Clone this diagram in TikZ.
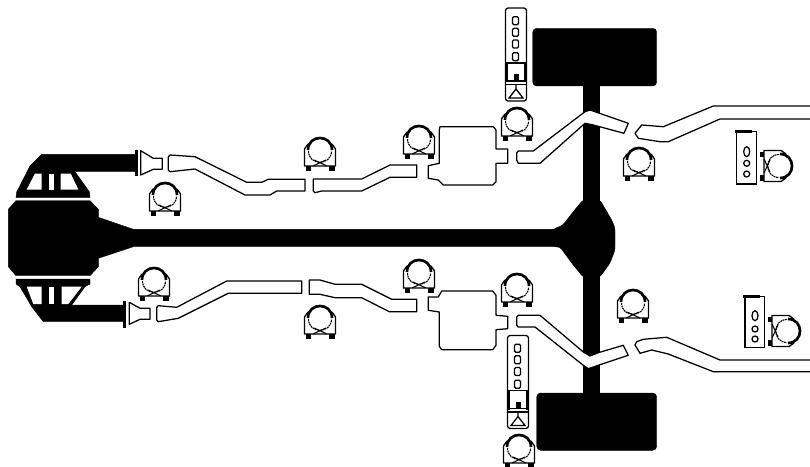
\documentclass[tikz,border=0pt]{standalone}
\usepackage{tikz}
\tikzset{
 tube/.style={draw,fill=white,line width=0.95pt,line join=round},
 solid/.style={fill=black,draw=black,line width=0.3pt},
 hole/.style={fill=white,draw=none},
 clamp/.pic={
  \begin{scope}[y=0.75pt]
  \draw[line width=1pt] (-12,7) -- (-15.5,2) -- (-15.5,-15) -- (15.5,-15) -- (15.5,2) -- (12,7);
  \draw[white,fill=white] (-11.5,0) .. controls (-11.5,-15) and (11.5,-15) .. (11.5,0) -- cycle;
  \draw[line width=0.8pt,dash pattern=on 1.4pt off 0.5pt] (-11.5,0) .. controls (-11.5,-15) and (11.5,-15) .. (11.5,0);
  \draw[line width=2pt] (-12,1) .. controls (-12,17) and (12,17) .. (12,1);
  \draw[line width=0.8pt] (-6,-9) -- (7,-15);
  \draw[line width=0.8pt] (6,-9) -- (-7,-15);
  \fill (-14.5,-15) rectangle (-9,-19.5);
  \fill (9,-15) rectangle (14.5,-19.5);
  \end{scope}
 },
 hanger/.pic={
  \draw[line width=0.95pt,rounded corners=2pt] (0,0) rectangle (21,93);
  \draw[line width=0.95pt] (0,55) -- (21,55);
  \foreach \yy in {8.7,20.3,32,44.7} {
   \draw[line width=0.95pt,rounded corners=1pt] (7,\yy) rectangle (13,\yy+8);
  }
  \fill (0,55) rectangle (2.2,74);
  \fill (18.8,55) rectangle (21,74);
  \draw[line width=0.95pt] (0,73) -- (21,73);
  \draw[line width=0.95pt] (0,76.5) -- (21,76.5);
  \fill (8,66) rectangle (13,73);
  \draw[line width=0.95pt] (10.5,77) -- (10.5,81) -- (3.5,90) -- (17.5,90) -- (10.5,81);
 },
}
\begin{document}
\begin{tikzpicture}[x=0.75pt,y=-0.75pt]
\useasboundingbox (0,0) rectangle (810,467);
\fill[solid] (8.3,209.3) -- (16,200.7) -- (90,200.7) -- (98.3,209.3) -- (98.3,217.3) -- (133.3,229.3) -- (560,229.3) -- (560,246.7) -- (133.3,246.7) -- (98.3,258.3) -- (98.3,266.7) -- (90,275.7) -- (16,275.7) -- (8.3,266.7) -- cycle;
\fill[solid] (41.7,154.3) -- (135,154.3) -- (135,171.7) -- (75,171.7) -- (89.5,192) -- (90,197.5) -- (16,197.5) -- (16.7,192) -- (30,166) -- cycle;
\fill[solid] (135,150) rectangle (137,175);
\fill[hole] (26.7,189.5) -- (35,173.5) -- (41.7,173.5) -- (41.7,189.5) -- cycle;
\fill[hole] (49.3,173.5) rectangle (54.3,189.5);
\fill[hole] (60.7,173.5) -- (70.7,173.5) -- (78.3,189.5) -- (60.7,189.5) -- cycle;
\fill[solid] (16,279) -- (90,279) -- (90,284) -- (85,286.7) -- (71.7,305) -- (123.3,305) -- (123.3,321.7) -- (43.3,321.7) -- (31.7,306.7) -- (20,286.7) -- (16,284) -- cycle;
\fill[solid] (123.3,301) rectangle (125,326.7);
\fill[hole] (26.7,286.7) -- (41.7,286.7) -- (41.7,304) -- (33.3,304) -- cycle;
\fill[hole] (49.3,286.7) rectangle (54.3,304);
\fill[hole] (61.7,286.7) -- (81.7,286.7) -- (68.3,304) -- (61.7,304) -- cycle;
\fill[solid] (583.3,86) rectangle (599,393);
\fill[solid,rounded corners=2pt] (553,229.3) -- (563,225) -- (573,212) -- (583,200) -- (600,200) -- (611.7,220) -- (615,228) -- (615,250) -- (610,263) -- (600,277) -- (583,277) -- (571.7,263) -- (560,247) -- (553,246.7) -- cycle;
\fill[solid,rounded corners=3pt] (532.7,28.3) -- (656.7,28.3) -- (656.7,86) -- (532.7,86) -- cycle;
\fill[solid,rounded corners=3pt] (536.7,393) -- (656.7,393) -- (656.7,450.3) -- (536.7,450.3) -- cycle;
\draw[tube] (140.7,150.7) -- (153.3,158.3) -- (162.3,158.3) -- (162.3,169.3) -- (153.3,169.3) -- (140.7,175) -- cycle;
\draw[tube] (129.3,302.3) -- (140,308.3) -- (150,308.3) -- (150,319.3) -- (140,319.3) -- (129.3,324.3) -- cycle;
\draw[tube] (168.3,157) -- (170,155) -- (195,156.7) -- (246.7,182.3) -- (261.7,182.3) -- (268.3,179.3) -- (305,179.3) -- (305,191) -- (276.7,191) -- (270,195) -- (245,195) -- (195,169) -- (170,171.7) -- (168.3,170) -- cycle;
\draw[tube] (313.3,179) -- (323.3,179) -- (361.7,179) -- (390,165) -- (416.7,165) -- (416.7,177.3) -- (390,177.3) -- (361.7,191) -- (321.7,191) -- (315,192.7) -- (313.3,191) -- cycle;
\draw[tube] (440,126.7) -- (493.3,126.7) -- (496,130) -- (496,149) -- (507.7,149) -- (507.7,163.3) -- (496,163.3) -- (496,181.7) -- (492.7,185) -- (443.3,185) -- (438.3,180) -- (428.3,178.3) -- (428.3,165.7) -- (439.3,163.3) -- (439.3,130) -- cycle;
\draw[tube] (518.3,151) -- (533.3,151) -- (585,111.7) -- (590,110) -- (628.3,123.3) -- (624,133.3) -- (593.3,125) -- (585,123.3) -- (540,163.3) -- (518.3,163.3) -- (516.7,160) -- (516.7,153) -- cycle;
\draw[tube] (812,106) -- (713.3,106) -- (663.3,126.7) -- (641.7,125) -- (635,133.3) -- (638.3,138.3) -- (660,141.7) -- (668.3,141.7) -- (720,119) -- (812,119);
\draw[tube] (158.3,305.7) -- (176.7,307.3) -- (226.7,281) -- (301.7,281) -- (301.7,293.3) -- (228.3,293.3) -- (178.3,318.3) -- (158.3,321.7) -- (156.7,320) -- (156.7,307.5) -- cycle;
\draw[tube] (309.3,280) -- (320,280) -- (335,284.3) -- (361.7,284.3) -- (391.7,299.3) -- (416.7,299.3) -- (416.7,311.7) -- (389.3,311.7) -- (361.7,297.7) -- (335,297.7) -- (320,294.3) -- (309.3,294.3) -- cycle;
\draw[tube] (441.7,291) -- (492.7,291) -- (496,295.3) -- (496,315.3) -- (507.7,316.3) -- (507.7,328.7) -- (496,329.7) -- (496,345.3) -- (492.7,349.7) -- (441.7,349.7) -- (439.3,346.3) -- (439.3,312) -- (428.3,310.3) -- (428.3,297) -- (438.3,297) -- cycle;
\draw[tube] (518.3,315.3) -- (540,315.3) -- (583.3,352) -- (590,356) -- (598.3,352.7) -- (623.3,345.3) -- (628.3,355.3) -- (598.3,365.3) -- (588.3,368.7) -- (583.3,365.3) -- (535,327) -- (518.3,327) -- (516.7,325.3) -- (516.7,317) -- cycle;
\draw[tube] (812,360) -- (720,360) -- (666.7,337.3) -- (643.3,339.3) -- (636.7,341.7) -- (635,345) -- (640,353.3) -- (651.7,350) -- (668.3,354) -- (713.3,371.7) -- (812,371.7);
\pic at (165,196) {clamp};
\pic at (320,151) {clamp};
\pic at (419,139) {clamp};
\pic at (517,121) {clamp};
\pic at (639,161) {clamp};
\pic at (154,281) {clamp};
\pic at (320,319) {clamp};
\pic at (419,273) {clamp};
\pic at (517,287) {clamp};
\pic at (633,303) {clamp};
\pic at (519,448) {clamp};
\pic at (505.5,8) {hanger};
\pic at (507.5,335.5) {hanger};
\draw[line width=0.95pt] (736.7,131.7) rectangle (756.7,184);
\draw[line width=2pt] (735,131.7) -- (752,131.7);
\draw[line width=0.95pt] (746.7,151.7) ellipse (3 and 5);
\draw[line width=0.95pt] (746.7,163.3) circle[radius=3];
\draw[line width=0.95pt] (746.7,174) circle[radius=3];
\draw[line width=0.95pt] (745,296.7) rectangle (764.3,347.7);
\draw[line width=2pt] (743,296.7) -- (760,296.7);
\draw[line width=0.95pt] (755,315.7) ellipse (3 and 5);
\draw[line width=0.95pt] (755,329) circle[radius=3];
\draw[line width=0.95pt] (755,339) circle[radius=3];
\pic[rotate=-90] at (779,166) {clamp};
\pic[rotate=-90] at (787,331) {clamp};
\end{tikzpicture}
\end{document}
